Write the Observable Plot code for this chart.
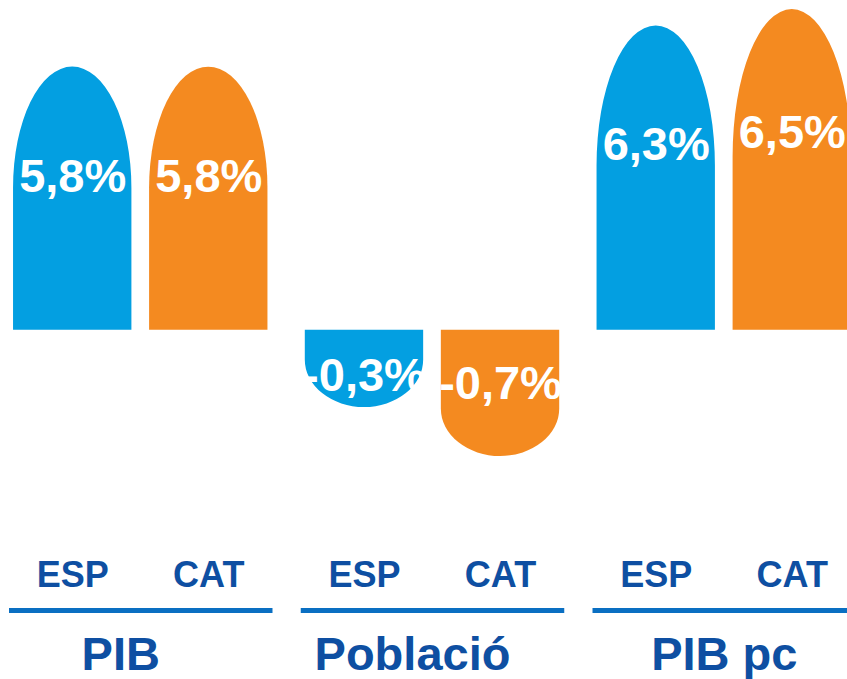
<!DOCTYPE html>
<html><head><meta charset="utf-8">
<script src="https://cdn.jsdelivr.net/npm/d3@7"></script>
<script src="https://cdn.jsdelivr.net/npm/@observablehq/plot@0.6"></script>
<style>body{margin:0;background:#fff;} #chart svg{display:block;}</style>
</head><body><div id="chart"></div>
<script>
const groups = ["PIB", "Població", "PIB pc"];
const countries = ["ESP", "CAT"];
const valuesESP = [5.8, -0.3, 6.3];
const valuesCAT = [5.8, -0.7, 6.5];
const colors = ["#039fe1", "#f48a20"];

const data = groups.flatMap((g, i) => [
  {group: g, country: "ESP", value: valuesESP[i]},
  {group: g, country: "CAT", value: valuesCAT[i]}
]);
const fmt = v => v.toFixed(1).replace(".", ",") + "%";
const font = "'Liberation Sans', Arial, sans-serif";
const dark = "#0e4fa2";
// the infographic is not drawn to scale: positive bars start from a truncated
// base, negative bars get a minimum depth and are exaggerated
const posBase = 2.6;
const negBase = 0.33;
const negStretch = 1.49;
const yTransform = v => v > 0 ? v - posBase : v < 0 ? (v - negBase) * negStretch : 0;

const chart = Plot.plot({
  width: 847, height: 679,
  marginTop: 0, marginRight: 0, marginBottom: 69, marginLeft: 10,
  style: {fontFamily: font, background: "white", overflow: "visible"},
  fx: {domain: groups, range: [11, 853], paddingInner: 0.114, paddingOuter: 0, round: false, axis: null, label: null},
  x: {domain: countries, paddingInner: 0.13, paddingOuter: 0.015, round: false, axis: null, label: null},
  y: {transform: yTransform, range: [456, 9], axis: null},
  color: {domain: countries, range: colors},
  marks: [
    Plot.barY(data, {fx: "group", x: "country", y: "value", fill: "country"}),
    Plot.text(data, {fx: "group", x: "country", y: d => d.value * (d.value > 0 ? 0.77 : 0.15), text: d => fmt(d.value), fill: "white", fontSize: 47, fontWeight: "bold"}),
    Plot.frame({anchor: "bottom", stroke: "#0a6fc2", strokeWidth: 5}),
    Plot.text(data, {fx: "group", x: "country", text: "country", frameAnchor: "bottom", dy: -24, fill: dark, fontSize: 36, fontWeight: "bold"}),
    Plot.text(groups.slice(0, 2), {fx: d => d, text: d => d, frameAnchor: "bottom", dx: -20, dy: 59, fill: dark, fontSize: 47, fontWeight: "bold"}),
    Plot.text(groups.slice(2), {fx: d => d, text: d => d, frameAnchor: "bottom", dy: 59, fill: dark, fontSize: 47, fontWeight: "bold"})
  ]
});

// turn each bar's rect into a domed shape (rounded end away from the baseline)
const base = chart.scale("y").apply(0);
chart.querySelectorAll('g[aria-label="bar"] rect').forEach(r => {
  const x = +r.getAttribute("x"), y = +r.getAttribute("y");
  const w = +r.getAttribute("width"), h = +r.getAttribute("height");
  const rx = w / 2;
  let d;
  if (Math.abs(y + h - base) < Math.abs(y - base)) {
    const ry = h * 0.46;
    d = `M${x},${y + h}V${y + ry}A${rx},${ry} 0 0 1 ${x + w},${y + ry}V${y + h}Z`;
  } else {
    const ry = Math.min(h * 0.8, w * 0.4);
    d = `M${x},${y}H${x + w}V${y + h - ry}A${rx},${ry} 0 0 1 ${x},${y + h - ry}Z`;
  }
  const p = document.createElementNS("http://www.w3.org/2000/svg", "path");
  for (const a of r.attributes) {
    if (!["x", "y", "width", "height"].includes(a.name)) p.setAttribute(a.name, a.value);
  }
  p.setAttribute("d", d);
  r.replaceWith(p);
});

document.getElementById("chart").append(chart);
</script>
</body></html>
